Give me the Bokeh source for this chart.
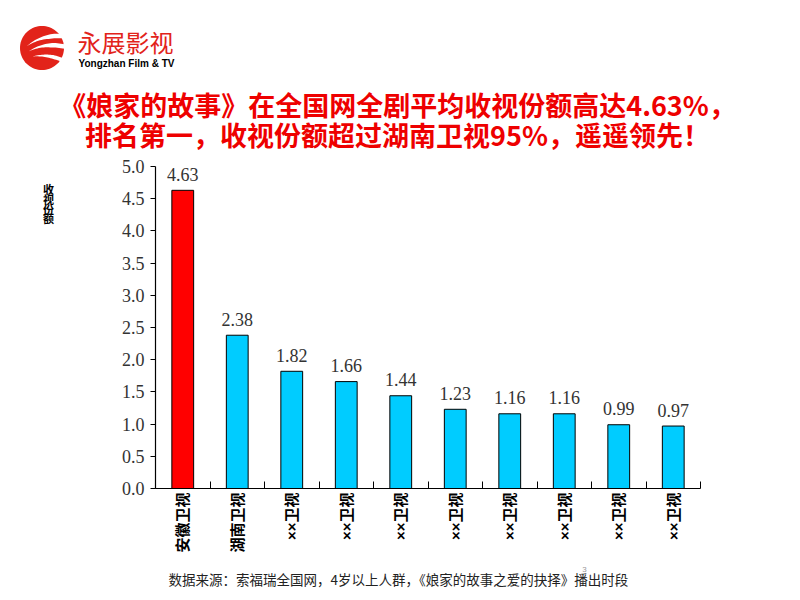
import math
from bokeh.plotting import figure
from bokeh.layouts import column, row
from bokeh.models import (ColumnDataSource, LabelSet, FixedTicker, Range1d,
                          NumeralTickFormatter)
from bokeh.core.properties import value
from bokeh.embed import file_html
from bokeh.resources import INLINE

# ---------------- data ----------------
channels = ["安徽卫视", "湖南卫视", "××卫视", "××卫视", "××卫视",
            "××卫视", "××卫视", "××卫视", "××卫视", "××卫视"]
shares = [4.63, 2.38, 1.82, 1.66, 1.44, 1.23, 1.16, 1.16, 0.99, 0.97]
bar_colors = ["#FF0000"] + ["#00CCFF"] * 9
y_ticks = [0.0, 0.5, 1.0, 1.5, 2.0, 2.5, 3.0, 3.5, 4.0, 4.5, 5.0]

title_lines = ["《娘家的故事》在全国网全剧平均收视份额高达4.63%，",
               "排名第一，收视份额超过湖南卫视95%，遥遥领先！"]
y_label_chars = ["收", "视", "份", "额"]
footnote = "数据来源：索福瑞全国网，4岁以上人群，《娘家的故事之爱的抉择》播出时段"
brand_cn = "永展影视"
brand_en = "Yongzhan Film & TV"

CJK = "Noto Sans CJK SC"
MIXED = "'Liberation Sans', 'Noto Sans CJK SC'"


def blank(w, h, y0, y1):
    f = figure(width=w, height=h, output_backend="svg", toolbar_location=None,
               x_range=Range1d(0, w), y_range=Range1d(y1, y0),
               x_axis_type=None, y_axis_type=None,
               min_border=0, min_border_left=0, min_border_right=0,
               min_border_top=0, min_border_bottom=0)
    f.outline_line_color = None
    f.xgrid.visible = False
    f.ygrid.visible = False
    f.background_fill_color = "white"
    f.border_fill_color = "white"
    return f


TOP = 155     # page y where header ends
BOT = 560     # page y where chart row ends

# ---------------- header ----------------
head = blank(800, TOP, 0, TOP)
cx, cy, r = 41.5, 47.5, 22
head.patch([cx + r * math.cos(2 * math.pi * k / 72) for k in range(72)],
           [cy + r * math.sin(2 * math.pi * k / 72) for k in range(72)],
           fill_color="#E2231A", line_color=None)


def band(p0, p1, p2, th):
    up, lo = [], []
    n = 24
    for k in range(n + 1):
        t = k / n
        x = (1 - t) ** 2 * p0[0] + 2 * (1 - t) * t * p1[0] + t ** 2 * p2[0]
        y = (1 - t) ** 2 * p0[1] + 2 * (1 - t) * t * p1[1] + t ** 2 * p2[1]
        d = th * min(1.0, t * 1.6)
        up.append((x, y - d / 2))
        lo.append((x, y + d / 2))
    pts = up + lo[::-1]
    return [a for a, b in pts], [b for a, b in pts]


for p0, p1, p2, th in [((26, 46), (42, 33), (68, 36), 4.5),
                       ((28, 51), (45, 41), (68, 47), 4.5),
                       ((32, 56), (48, 53), (66, 61), 4.0)]:
    bx, by = band(p0, p1, p2, th)
    head.patch(bx, by, fill_color="white", line_color=None)

head.text(x=[77], y=[41], text=[brand_cn], text_font=value(CJK),
          text_font_size="24px", text_color="#E2231A",
          text_baseline="middle", text_align="left")
head.text(x=[78], y=[63], text=[brand_en], text_font=value("Liberation Sans"),
          text_font_style="bold", text_font_size="10px", text_color="black",
          text_baseline="middle", text_align="left")
head.text(x=[397, 397], y=[104, 134], text=title_lines, text_font=value(CJK),
          text_font_style="bold", text_font_size="27px", text_color="#EE0000",
          text_align="center", text_baseline="middle")

# ---------------- left strip ----------------
left = blank(70, BOT - TOP, TOP, BOT)
left.text(x=[48] * 4, y=[183.5 + 12.3 * k for k in range(4)], text=y_label_chars,
          text_font=value(CJK), text_font_style="bold", text_font_size="11px",
          text_color="black", text_align="center", text_baseline="middle")

# ---------------- chart ----------------
p = figure(width=730, height=BOT - TOP, output_backend="svg", toolbar_location=None,
           x_range=Range1d(0, len(channels)), y_range=Range1d(0, 5),
           min_border_left=85, min_border_right=100,
           min_border_top=166 - TOP, min_border_bottom=BOT - 488)
p.outline_line_color = None
p.xgrid.visible = False
p.ygrid.visible = False
p.background_fill_color = "white"
p.border_fill_color = "white"

centers = [i + 0.5 for i in range(len(channels))]
src = ColumnDataSource(dict(x=centers, share=shares, color=bar_colors,
                            label=[f"{v:.2f}" for v in shares]))
p.vbar(x="x", top="share", width=0.4, fill_color="color",
       line_color="black", line_width=1, source=src)
p.add_layout(LabelSet(x="x", y="share", text="label", source=src,
                      text_align="center", text_baseline="middle",
                      y_offset=16, text_font=value("Liberation Serif"),
                      text_font_size="18px", text_color="#333333"))

xa = p.xaxis[0]
xa.ticker = FixedTicker(ticks=centers, minor_ticks=list(range(len(channels) + 1)))
xa.major_label_overrides = {c: n for c, n in zip(centers, channels)}
xa.major_label_orientation = math.pi / 2
xa.major_tick_in = 0
xa.major_tick_out = 0
xa.minor_tick_in = 7
xa.minor_tick_out = 0
xa.major_label_standoff = 4
xa.major_label_text_font = MIXED
xa.major_label_text_font_style = "bold"
xa.major_label_text_font_size = "15px"
xa.major_label_text_color = "black"
xa.axis_line_color = "black"
xa.axis_line_width = 1.2
xa.minor_tick_line_color = "black"

ya = p.yaxis[0]
ya.ticker = FixedTicker(ticks=y_ticks)
ya.formatter = NumeralTickFormatter(format="0.0")
ya.major_tick_out = 5
ya.major_tick_in = 0
ya.minor_tick_line_color = None
ya.major_label_standoff = 6
ya.major_label_text_font = "Liberation Serif"
ya.major_label_text_font_size = "18px"
ya.major_label_text_color = "#333333"
ya.axis_line_color = "black"
ya.axis_line_width = 1.2

# ---------------- footer ----------------
foot = blank(800, 600 - BOT, BOT, 600)
foot.text(x=[168], y=[578], text=[footnote], text_font=value(CJK),
          text_font_size="13.5px", text_color="#222222",
          text_align="left", text_baseline="middle")
foot.text(x=[584], y=[569], text=["3"], text_font=value("Liberation Sans"),
          text_font_size="8px", text_color="#999999",
          text_align="center", text_baseline="middle")

layout = column(head, row(left, p), foot)
open("out.html", "w").write(file_html(layout, INLINE))
